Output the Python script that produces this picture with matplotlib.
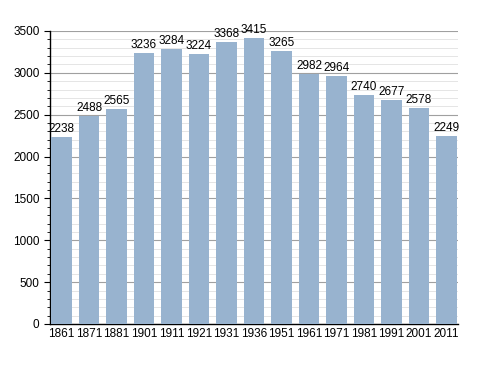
import matplotlib
matplotlib.use("Agg")
import matplotlib.pyplot as plt
from matplotlib.ticker import MultipleLocator

years = ["1861", "1871", "1881", "1901", "1911", "1921", "1931", "1936",
         "1951", "1961", "1971", "1981", "1991", "2001", "2011"]
population = [2238, 2488, 2565, 3236, 3284, 3224, 3368, 3415,
              3265, 2982, 2964, 2740, 2677, 2578, 2249]

plt.rcParams['font.family'] = ['Liberation Sans', 'DejaVu Sans']
fig = plt.figure(figsize=(4.88, 3.73), dpi=100)
ax = fig.add_axes([0.1025, 0.1314, 0.836, 0.7855])

x = list(range(len(years)))
ax.bar(x, population, width=0.75, color="#98b3cf", zorder=3)
for xi, v in zip(x, population):
    ax.text(xi, v + 25, str(v), ha="center", va="bottom", fontsize=8.5, zorder=4)

ax.set_xlim(-0.42, len(years) - 0.58)
ax.set_ylim(0, 3500)
ax.set_xticks(x)
ax.set_xticklabels(years)
ax.yaxis.set_major_locator(MultipleLocator(500))
ax.yaxis.set_minor_locator(MultipleLocator(100))
ax.grid(which="major", axis="y", color="#a0a0a0", linewidth=0.8, zorder=0)
ax.grid(which="minor", axis="y", color="#e0e0e0", linewidth=0.6, zorder=0)
for s in ["top", "right"]:
    ax.spines[s].set_visible(False)
ax.spines["left"].set_linewidth(1)
ax.spines["bottom"].set_linewidth(1)
ax.tick_params(axis="x", length=0, labelsize=8.5, pad=3)
ax.tick_params(axis="y", which="major", length=4, labelsize=8.5)
ax.tick_params(axis="y", which="minor", length=2)
fig.savefig("out.png", dpi=100)
